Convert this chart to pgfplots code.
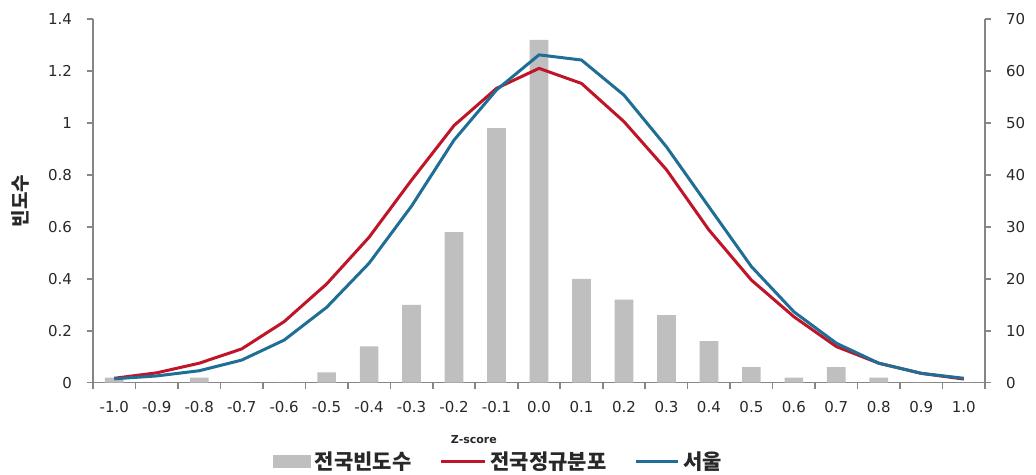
\documentclass[border=0pt]{standalone}
\usepackage{pgfplots}
\pgfplotsset{compat=1.18}
\usepackage{pgfplotstable}
\usepackage{fontspec}
\setmainfont{DejaVu Sans}
\newfontfamily\kr{Noto Sans CJK KR}
\definecolor{barg}{RGB}{191,191,191}
\definecolor{lred}{RGB}{192,20,40}
\definecolor{lblue}{RGB}{30,110,150}
\definecolor{axg}{RGB}{134,134,134}
\definecolor{txt}{RGB}{40,40,40}
\pgfplotstableread{
x bar red blue
0 0.02 0.017 0.015
1 0 0.038 0.026
2 0.02 0.075 0.046
3 0 0.13 0.087
4 0 0.235 0.164
5 0.04 0.38 0.29
6 0.14 0.56 0.46
7 0.30 0.78 0.68
8 0.58 0.99 0.934
9 0.98 1.133 1.127
10 1.32 1.21 1.262
11 0.40 1.152 1.242
12 0.32 1.005 1.107
13 0.26 0.82 0.908
14 0.16 0.588 0.677
15 0.06 0.395 0.447
16 0.02 0.254 0.273
17 0.06 0.139 0.152
18 0.02 0.075 0.075
19 0 0.036 0.036
20 0 0.014 0.017
}\data
\begin{document}
\begin{tikzpicture}
\useasboundingbox (-46.5pt,-46.15pt) rectangle (471.5pt,191.35pt);
\begin{axis}[
  at={(0,0)}, anchor=south west,
  width=446pt, height=181.85pt, scale only axis,
  xmin=-0.5, xmax=20.5, ymin=0, ymax=1.4,
  axis x line*=bottom, axis y line*=left,
  axis line style={axg, line width=0.8pt},
  tick align=outside,
  major tick length=3pt, minor tick length=3pt,
  every tick/.style={axg, line width=0.8pt},
  xtick={0,...,20},
  xticklabels={-1.0,-0.9,-0.8,-0.7,-0.6,-0.5,-0.4,-0.3,-0.2,-0.1,0.0,0.1,0.2,0.3,0.4,0.5,0.6,0.7,0.8,0.9,1.0},
  major x tick style={draw=none},
  minor xtick={-0.5,0.5,...,20.5},
  ytick={0,0.2,0.4,0.6,0.8,1,1.2,1.4},
  yticklabels={0,0.2,0.4,0.6,0.8,1,1.2,1.4},
  ticklabel style={font=\fontsize{7.5pt}{9pt}\selectfont, text=txt},
  yticklabel shift=4pt,
  xticklabel shift=3pt,
  xlabel={Z-score},
  xlabel style={font=\fontsize{5.5pt}{6.5pt}\selectfont\bfseries, text=txt, at={(axis description cs:0.427,-0.1576)}, anchor=center},
  ylabel={\kr\bfseries 빈도수},
  ylabel style={font=\fontsize{9.5pt}{11pt}\selectfont, text=txt, at={(axis description cs:-0.0818,0.5)}, anchor=center},
  legend style={draw=none, fill=none, legend columns=3, at={(axis description cs:0.4557,-0.218)}, anchor=center,
    font=\kr\bfseries\fontsize{10.5pt}{11pt}\selectfont, text=txt,
    /tikz/every even column/.append style={column sep=12pt},
    inner sep=0pt, cells={anchor=west}},
  legend cell align=left,
  clip=false,
]
\addplot[ybar, bar width=9.35pt, fill=barg, draw=none,
  legend image code/.code={\fill[barg] (0pt,-3.25pt) rectangle (19pt,3.25pt);}]
  table[x=x, y=bar] {\data};
\addlegendentry{전국빈도수}
\addplot[lred, line width=1.5pt, line join=round, no markers,
  legend image code/.code={\draw[lred, line width=1.5pt] (0pt,0pt) -- (22pt,0pt);}]
  table[x=x, y=red] {\data};
\addlegendentry{전국정규분포}
\addplot[lblue, line width=1.5pt, line join=round, no markers,
  legend image code/.code={\draw[lblue, line width=1.5pt] (0pt,0pt) -- (21pt,0pt);}]
  table[x=x, y=blue] {\data};
\addlegendentry{서울}
\end{axis}
\begin{axis}[
  at={(0,0)}, anchor=south west,
  width=446pt, height=181.85pt, scale only axis,
  xmin=-0.5, xmax=20.5, ymin=0, ymax=70,
  axis x line=none, axis y line*=right,
  axis line style={axg, line width=0.8pt},
  tick align=outside, major tick length=3pt,
  every tick/.style={axg, line width=0.8pt},
  ytick={0,10,20,30,40,50,60,70},
  /pgf/number format/assume math mode=true,
  yticklabel style={font=\fontsize{7.5pt}{9pt}\selectfont, text=txt},
  yticklabel shift=4pt,
]
\addplot[draw=none, forget plot] coordinates {(0,0)};
\end{axis}
\end{tikzpicture}
\end{document}
